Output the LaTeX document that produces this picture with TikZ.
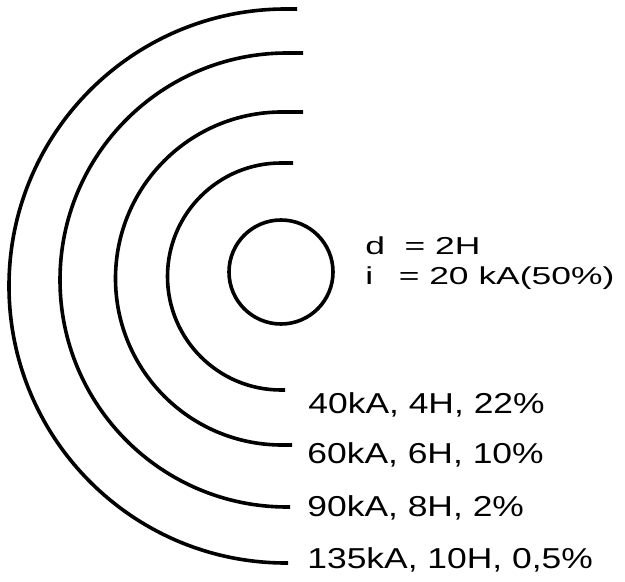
\documentclass[tikz,border=0pt]{standalone}
\usepackage{fontspec}
\usepackage{graphicx}
\setmainfont{Liberation Sans}
\newcommand{\wide}[1]{\scalebox{1.23}[1]{#1}}
\newcommand{\widesq}[1]{\scalebox{1.23}[0.85]{#1}}

\begin{document}
\begin{tikzpicture}[
		x=0.5pt, y=-0.5pt,
		every node/.style={font=\fontsize{14.4}{16}\selectfont},
		ring/.style={line width=1.8pt},
		lbl/.style={anchor=base west, inner sep=0pt}
		]
		\useasboundingbox (0,0) rectangle (625,582);
		
		% --- conductor ---
		\draw[ring] (281,272) circle[radius=52];
		
		% --- striking distance arcs: cx/cy/radius/top end/bottom end ---
		\foreach \cx/\cy/\rad/\xt/\xb in {281/276.5/113.5/293/285, 282/278.5/166.5/303/292, 287/280/227/303/290, 286/286/277/297/288}
		\draw[ring] (\xt,\cy-\rad) -- (\cx,\cy-\rad) arc[start angle=270, end angle=90, radius=\rad] -- (\xb,\cy+\rad);
		
		% --- labels ---
		\node[lbl] (dist) at (365,255) {\widesq{d\hspace{0.55em}= 2H}};
		\node[lbl] (curr) at (365,285) {\widesq{i\hspace{0.72em}= 20 kA(50\%)}};
		\node[lbl] (ringa) at (308,413) {\wide{40kA, 4H, 22\%}};
		\node[lbl] (ringb) at (307,463) {\wide{60kA, 6H, 10\%}};
		\node[lbl] (ringc) at (307,516) {\wide{90kA, 8H, 2\%}};
		\node[lbl] (ringd) at (307,568) {\wide{135kA, 10H, 0,5\%}};
	\end{tikzpicture}
\end{document}
